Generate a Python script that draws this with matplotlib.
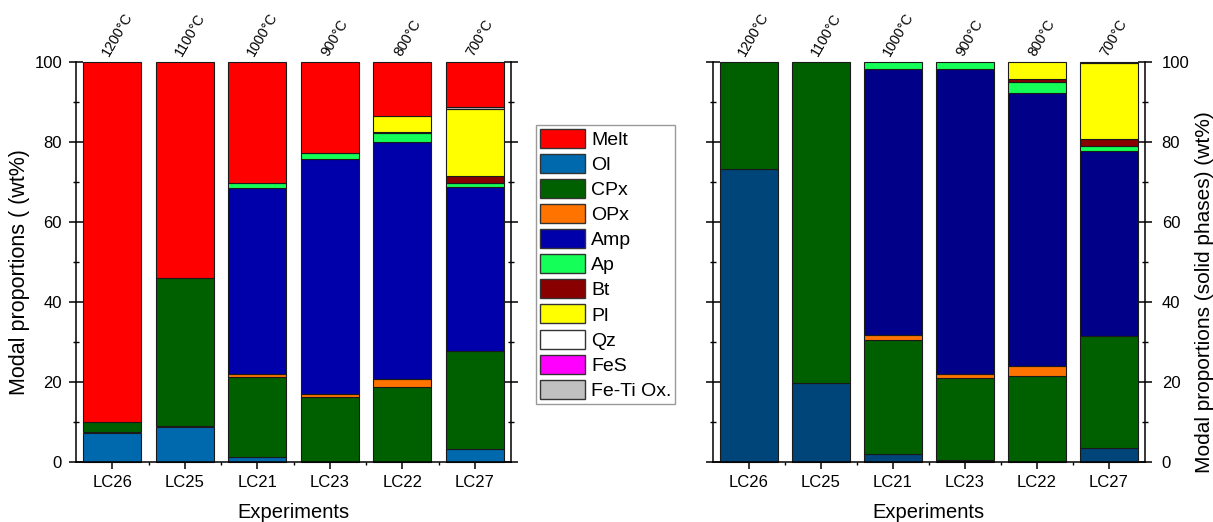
import matplotlib
matplotlib.use("Agg")
import matplotlib.pyplot as plt
from matplotlib.patches import Patch
from matplotlib.ticker import MultipleLocator, FixedLocator
import numpy as np

plt.rcParams["font.family"] = ["Liberation Sans", "DejaVu Sans"]

experiments = ["LC26", "LC25", "LC21", "LC23", "LC22", "LC27"]
temperatures = ["1200°C", "1100°C", "1000°C", "900°C", "800°C", "700°C"]

# Stacking order (bottom -> top)
phases = ["Ol", "CPx", "OPx", "Amp", "Ap", "Bt", "Pl", "Qz", "FeS", "Fe-Ti Ox.", "Melt"]
legend_order = ["Melt", "Ol", "CPx", "OPx", "Amp", "Ap", "Bt", "Pl", "Qz", "FeS", "Fe-Ti Ox."]

# Bulk modal proportions (wt%)
bulk_ol   = [7.3, 8.8, 1.3, 0.0, 0.0, 3.1]
bulk_cpx  = [2.7, 37.0, 19.8, 16.1, 18.6, 24.6]
bulk_opx  = [0.0, 0.0, 0.8, 0.7, 2.1, 0.0]
bulk_amp  = [0.0, 0.0, 46.4, 58.9, 59.1, 40.9]
bulk_ap   = [0.0, 0.0, 1.4, 1.4, 2.3, 1.1]
bulk_bt   = [0.0, 0.0, 0.0, 0.0, 0.4, 1.7]
bulk_pl   = [0.0, 0.0, 0.0, 0.0, 4.0, 16.7]
bulk_qz   = [0.0, 0.0, 0.0, 0.0, 0.0, 0.0]
bulk_fes  = [0.0, 0.0, 0.0, 0.0, 0.0, 0.0]
bulk_feti = [0.0, 0.0, 0.0, 0.0, 0.0, 0.5]
bulk_melt = [90.0, 54.2, 30.3, 22.9, 13.5, 11.4]

# Solid-phase-only proportions (wt%)
solid_ol   = [73.1, 19.6, 1.9, 0.3, 0.0, 3.5]
solid_cpx  = [26.9, 80.4, 28.4, 20.5, 21.4, 27.8]
solid_opx  = [0.0, 0.0, 1.4, 1.2, 2.6, 0.0]
solid_amp  = [0.0, 0.0, 66.5, 76.2, 68.1, 46.4]
solid_ap   = [0.0, 0.0, 1.8, 1.8, 2.8, 1.3]
solid_bt   = [0.0, 0.0, 0.0, 0.0, 0.7, 1.7]
solid_pl   = [0.0, 0.0, 0.0, 0.0, 4.4, 18.9]
solid_qz   = [0.0, 0.0, 0.0, 0.0, 0.0, 0.0]
solid_fes  = [0.0, 0.0, 0.0, 0.0, 0.0, 0.0]
solid_feti = [0.0, 0.0, 0.0, 0.0, 0.0, 0.4]
solid_melt = [0.0, 0.0, 0.0, 0.0, 0.0, 0.0]

bulk = [bulk_ol, bulk_cpx, bulk_opx, bulk_amp, bulk_ap, bulk_bt, bulk_pl,
        bulk_qz, bulk_fes, bulk_feti, bulk_melt]
solid = [solid_ol, solid_cpx, solid_opx, solid_amp, solid_ap, solid_bt, solid_pl,
         solid_qz, solid_fes, solid_feti, solid_melt]

colors_left = {"Ol": "#0068AD", "CPx": "#006000", "OPx": "#FF7300", "Amp": "#0000AA",
               "Ap": "#14FF58", "Bt": "#880000", "Pl": "#FFFF00", "Qz": "#FFFFFF",
               "FeS": "#FF00FF", "Fe-Ti Ox.": "#C0C0C0", "Melt": "#FF0000"}
colors_right = dict(colors_left, Ol="#00457A", Amp="#000088")

EDGE = "#1a1a1a"
W, H = 1213, 522


def stacked(ax, data, colors):
    x = np.arange(len(experiments))
    bottom = np.zeros(len(experiments))
    for name, vals in zip(phases, data):
        vals = np.asarray(vals, dtype=float)
        keep = vals > 0
        if keep.any():
            ax.bar(x[keep], vals[keep], width=0.8, bottom=bottom[keep],
                   color=colors[name], edgecolor=EDGE, linewidth=0.8,
                   clip_on=False, zorder=2)
        bottom += vals
    ax.set_xlim(-0.5, len(experiments) - 0.5)
    ax.set_ylim(0, 100)
    ax.set_xticks(x)
    ax.set_xticklabels(experiments, fontsize=12)
    ax.xaxis.set_minor_locator(FixedLocator(x[:-1] + 0.5))
    ax.yaxis.set_major_locator(MultipleLocator(20))
    ax.yaxis.set_minor_locator(MultipleLocator(10))
    ax.spines["top"].set_visible(False)
    for s in ("left", "right", "bottom"):
        ax.spines[s].set_linewidth(1.1)
    ax.tick_params(axis="x", which="major", direction="out", length=5, width=1.1, pad=4.5)
    ax.tick_params(axis="x", which="minor", direction="out", length=2.5, width=1.0)
    ax.tick_params(axis="y", which="major", direction="inout", length=10, width=1.1,
                   left=True, right=True, labelsize=12, pad=5)
    ax.tick_params(axis="y", which="minor", direction="inout", length=5, width=1.0,
                   left=True, right=True)
    ax.set_xlabel("Experiments", fontsize=14.5, va="center")
    ax.xaxis.set_label_coords(0.5, (461.7 - 512) / 400)
    for i, t in enumerate(temperatures):
        ax.text(i + 0.07, 100.9, t, rotation=60, ha="center", va="bottom",
                fontsize=10.3, clip_on=False)


fig = plt.figure(figsize=(12.13, 5.22), dpi=100)
ax1 = fig.add_axes([76 / W, 1 - 461.7 / H, 435 / W, 400 / H])
ax2 = fig.add_axes([712.7 / W, 1 - 461.7 / H, 432.3 / W, 400 / H])

stacked(ax1, bulk, colors_left)
ax1.set_ylabel("Modal proportions ( (wt%)", fontsize=15.5, va="center")
ax1.yaxis.set_label_coords((20 - 76) / 435, (461.7 - 272) / 400)

stacked(ax2, solid, colors_right)
ax2.tick_params(axis="y", which="both", labelleft=False, labelright=True)
ax2.tick_params(axis="y", which="major", pad=7)
ax2.yaxis.set_label_position("right")
ax2.set_ylabel("Modal proportions (solid phases) (wt%)", fontsize=15, va="center",
               rotation=90)
ax2.yaxis.set_label_coords((1204 - 712.7) / 432.3, (461.7 - 292) / 400)

handles = [Patch(facecolor=colors_left[p], edgecolor="#333333", linewidth=1.0, label=p)
           for p in legend_order]
leg = fig.legend(handles=handles, loc="upper left",
                 bbox_to_anchor=(536 / W, 1 - 125 / H), fontsize=14,
                 handlelength=2.32, handleheight=1.13, labelspacing=0.255,
                 handletextpad=0.31, borderpad=0.2, borderaxespad=0,
                 fancybox=False, framealpha=1)
leg.get_frame().set_edgecolor("#9a9a9a")
leg.get_frame().set_linewidth(1.0)

fig.savefig("out.png", dpi=100)
